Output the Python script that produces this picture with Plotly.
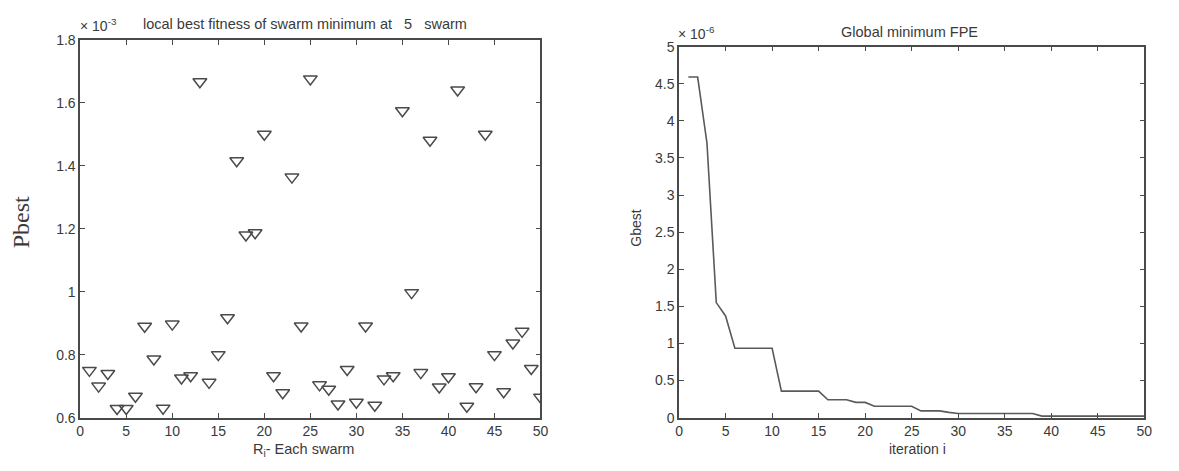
import plotly.graph_objects as go

# Left panel: local best fitness (units of 1e-3)
swarm = list(range(1, 51))
pbest = [0.75, 0.70, 0.74, 0.629, 0.629, 0.668, 0.89, 0.786, 0.63, 0.897,
         0.726, 0.733, 1.667, 0.712, 0.80, 0.917, 1.416, 1.18, 1.187, 1.50,
         0.733, 0.679, 1.364, 0.891, 1.676, 0.704, 0.69, 0.643, 0.753, 0.649,
         0.891, 0.639, 0.723, 0.733, 1.575, 0.997, 0.743, 1.481, 0.697, 0.730,
         1.641, 0.636, 0.698, 1.50, 0.80, 0.682, 0.837, 0.874, 0.756, 0.665]

# Right panel: global best (units of 1e-6)
iteration = list(range(1, 51))
gbest = [4.59, 4.59, 3.70, 1.55, 1.37, 0.935, 0.935, 0.935, 0.935, 0.935,
         0.357, 0.357, 0.357, 0.357, 0.357, 0.24, 0.24, 0.24, 0.205, 0.205,
         0.152, 0.152, 0.152, 0.152, 0.152, 0.09, 0.09, 0.09, 0.07, 0.055,
         0.055, 0.055, 0.055, 0.055, 0.055, 0.055, 0.055, 0.055, 0.02, 0.02,
         0.02, 0.02, 0.02, 0.02, 0.02, 0.02, 0.02, 0.02, 0.02, 0.02]

left_yticks = [0.6, 0.8, 1.0, 1.2, 1.4, 1.6, 1.8]
left_yticktext = ["0.6", "0.8", "1", "1.2", "1.4", "1.6", "1.8"]
right_yticks = [0, 0.5, 1, 1.5, 2, 2.5, 3, 3.5, 4, 4.5, 5]
right_yticktext = ["0", "0.5", "1", "1.5", "2", "2.5", "3", "3.5", "4", "4.5", "5"]
xticks = [0, 5, 10, 15, 20, 25, 30, 35, 40, 45, 50]

W, H = 1179, 471
TXT = "#3a3a3a"
LINE = "#4a4a4a"
FONT = "Liberation Sans, Arial, sans-serif"

fig = go.Figure()
fig.add_trace(go.Scatter(x=swarm, y=pbest, mode="markers",
                         marker=dict(symbol="triangle-down-open", size=12,
                                     color=LINE, line=dict(width=1.5, color=LINE)),
                         xaxis="x", yaxis="y", showlegend=False))
fig.add_trace(go.Scatter(x=iteration, y=gbest, mode="lines",
                         line=dict(color="#5a5a5a", width=1.6),
                         xaxis="x2", yaxis="y2", showlegend=False))

axcommon = dict(showline=True, linecolor=LINE, linewidth=1.5, mirror="ticks",
                ticks="inside", ticklen=5, tickwidth=1.2, tickcolor=LINE,
                showgrid=False, zeroline=False,
                tickfont=dict(family=FONT, size=14, color=TXT))

def px_x(p):
    return p / W

def px_y(p):
    return 1 - p / H

fig.update_layout(
    width=W, height=H, margin=dict(l=0, r=0, t=0, b=0),
    paper_bgcolor="white", plot_bgcolor="white",
    xaxis=dict(domain=[px_x(77), px_x(542)], range=[0, 50], tickvals=xticks,
               anchor="y", **axcommon),
    yaxis=dict(domain=[px_y(424), px_y(33)], range=[0.6, 1.8], tickvals=left_yticks,
               ticktext=left_yticktext, anchor="x", **axcommon),
    xaxis2=dict(domain=[px_x(682), px_x(1152)], range=[0, 50], tickvals=xticks,
                anchor="y2", **axcommon),
    yaxis2=dict(domain=[px_y(424), px_y(40)], range=[0, 5], tickvals=right_yticks,
                ticktext=right_yticktext, anchor="x2", **axcommon),
)

def ann(text, x, y, size=14, family=FONT, angle=0, xanchor="center", yanchor="middle"):
    fig.add_annotation(text=text, x=px_x(x), y=px_y(y), xref="paper", yref="paper",
                       showarrow=False, textangle=angle, xanchor=xanchor, yanchor=yanchor,
                       font=dict(family=family, size=size, color=TXT))

ann("local best fitness of swarm minimum at &nbsp; 5 &nbsp; swarm", 304, 17, size=14.5)
ann("Global minimum FPE", 915, 25, size=14.5)
ann("× 10<sup>-3</sup>", 75, 18, xanchor="left")
ann("× 10<sup>-6</sup>", 679, 26, xanchor="left")
ann("R<sub>i</sub>- Each swarm", 303, 458, size=14.5)
ann("iteration i", 923, 456, size=14)
ann("Pbest", 18, 222, size=24, family="Liberation Serif, Times New Roman, serif", angle=-90)
ann("Gbest", 639, 228, size=14, angle=-90)

fig.write_html("out.html")
